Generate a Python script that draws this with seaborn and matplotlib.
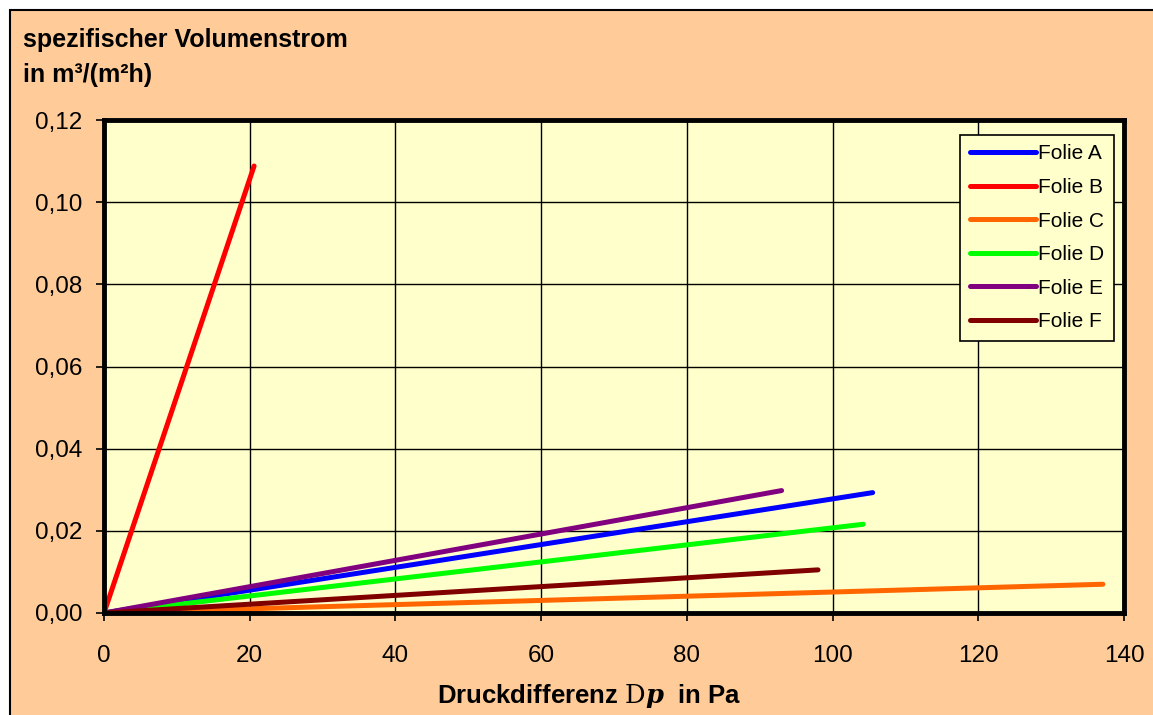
import seaborn as sns
import matplotlib.pyplot as plt
import matplotlib.ticker as mticker
from matplotlib.patches import Rectangle
from matplotlib.legend_handler import HandlerLine2D
import pandas as pd

# Messdaten: Druckdifferenz (Pa) und spezifischer Volumenstrom (m³/(m²h))
folien = ["Folie A", "Folie B", "Folie C", "Folie D", "Folie E", "Folie F"]
dp_werte = [[0, 105.5], [0, 20.6], [0, 137.1], [0, 104.2], [0, 93.0], [0, 98.0]]
v_werte = [[0, 0.0293], [0, 0.1088], [0, 0.0070], [0, 0.0216], [0, 0.0298], [0, 0.0105]]
farben = ["#0000FF", "#FF0000", "#FF6600", "#00FF00", "#800080", "#800000"]

rows = []
for name, xs, ys in zip(folien, dp_werte, v_werte):
    for x, y in zip(xs, ys):
        rows.append({"Folie": name, "dp": x, "v": y})
df = pd.DataFrame(rows)


class KurzeLinie(HandlerLine2D):
    # legend line only in the right part of the handle box (leaves space on the left)
    def create_artists(self, legend, orig_handle, xdescent, ydescent, width, height, fontsize, trans):
        arts = super().create_artists(legend, orig_handle, xdescent, ydescent, width, height, fontsize, trans)
        for a in arts:
            xd = a.get_xdata()
            if len(xd) == 2:
                a.set_xdata([xd[0] + 0.22 * width, xd[1]])
        return arts


sns.set_theme(style="white")
plt.rcParams["font.family"] = ["Liberation Sans", "DejaVu Sans"]
plt.rcParams["mathtext.fontset"] = "dejavuserif"
plt.rcParams["text.color"] = "black"
plt.rcParams["axes.labelcolor"] = "black"

fig = plt.figure(figsize=(11.53, 7.15), dpi=100)
fig.patch.set_facecolor("white")
# peach chart area with black border
fig.patches.append(Rectangle((10 / 1153, -0.01), 1.02, 1 - 10 / 715 + 0.01,
                             transform=fig.transFigure, facecolor="#FFCC99",
                             edgecolor="black", linewidth=1.5, zorder=-10))

ax = fig.add_axes([104 / 1153, 1 - 613 / 715, (1124 - 104) / 1153, (613 - 120) / 715])
ax.set_facecolor("#FFFFCC")

sns.lineplot(data=df, x="dp", y="v", hue="Folie", palette=farben, linewidth=3.6,
             solid_capstyle="round", ax=ax, zorder=3)

ax.set_xlim(0, 140)
ax.set_ylim(0, 0.12)
ax.set_xticks(range(0, 141, 20))
ax.set_yticks([0, 0.02, 0.04, 0.06, 0.08, 0.10, 0.12])
ax.yaxis.set_major_formatter(mticker.FuncFormatter(lambda v, p: f"{v:.2f}".replace(".", ",")))
ax.grid(True, color="black", linewidth=1.0)
ax.set_axisbelow(True)
for s in ax.spines.values():
    s.set_visible(True)
    s.set_color("black")
    s.set_linewidth(3.5)
    s.set_zorder(5)
ax.tick_params(axis="both", direction="out", length=6, width=1.2, color="black",
               labelsize=17.5, labelcolor="black", bottom=True, left=True)
ax.tick_params(axis="y", pad=9.5)
ax.tick_params(axis="x", pad=17)

ax.set_xlabel(r"Druckdifferenz $\mathrm{D}\boldsymbol{p}$  in Pa", fontsize=18.5,
              fontweight="bold", color="black")
ax.xaxis.label.set_va("baseline")
ax.xaxis.set_label_coords((589 - 104) / 1020, (613 - 703) / 493)
ax.set_ylabel("")

fig.text(23 / 1153, 1 - 47 / 715, "spezifischer Volumenstrom", fontsize=18,
         fontweight="bold", va="baseline", ha="left", color="black")
fig.text(23 / 1153, 1 - 82 / 715, "in m³/(m²h)", fontsize=18,
         fontweight="bold", va="baseline", ha="left", color="black")

handles, labels = ax.get_legend_handles_labels()
leg = ax.legend(handles, labels, loc="upper right",
                bbox_to_anchor=((1114 - 104) / 1020, (613 - 135) / 493),
                fontsize=15, frameon=True, fancybox=False,
                handlelength=3.2, handletextpad=0.1, labelspacing=0.7,
                borderaxespad=0, borderpad=0.45,
                handler_map={h: KurzeLinie() for h in handles})
leg.get_frame().set_facecolor("#FFFFCC")
leg.get_frame().set_edgecolor("black")
leg.get_frame().set_linewidth(1.2)
leg.get_frame().set_alpha(1)
for line in leg.get_lines():
    line.set_linewidth(3.6)
    line.set_solid_capstyle("round")

fig.savefig("out.png", dpi=100)
